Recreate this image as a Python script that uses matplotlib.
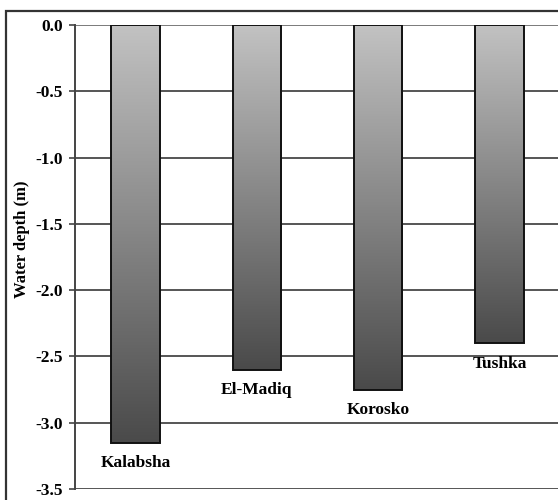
import matplotlib.pyplot as plt
import numpy as np
from matplotlib.patches import Rectangle
from matplotlib.colors import LinearSegmentedColormap

sites = ["Kalabsha", "El-Madiq", "Korosko", "Tushka"]
depths = [-3.15, -2.6, -2.75, -2.4]
yticks = [0.0, -0.5, -1.0, -1.5, -2.0, -2.5, -3.0, -3.5]

plt.rcParams['font.family'] = ['Liberation Serif', 'DejaVu Serif']
plt.rcParams['font.weight'] = 'bold'

W, H = 558, 500
fig = plt.figure(figsize=(W / 100, H / 100), dpi=100)

# outer chart frame (runs past the right and bottom edges)
fig.patches.append(Rectangle((6 / W, -0.1), 1.2, 1 - 11 / H + 0.1,
                             transform=fig.transFigure, fill=False,
                             edgecolor='#333333', linewidth=1.6))

x0, x1 = 75, 560
y0, y1 = 489, 25
ax = fig.add_axes([x0 / W, 1 - y0 / H, (x1 - x0) / W, (y0 - y1) / H])
ax.set_facecolor('none')

x = np.arange(len(sites))
ax.set_xlim(-0.5, len(sites) - 0.5)
ax.set_ylim(-3.5, 0.0)

for yv in yticks:
    ax.axhline(yv, color='#7a7a7a' if yv == 0 else '#555555', lw=1.4, zorder=0)

cmap = LinearSegmentedColormap.from_list('bar', ['#c2c2c2', '#4a4a4a'])
grad = np.linspace(0, 1, 256).reshape(-1, 1)
bars = ax.bar(x, depths, width=0.4, color='none', edgecolor='#111111',
              linewidth=1.4, zorder=3)
for b in bars:
    bx, bw = b.get_x(), b.get_width()
    top, bottom = 0.0, b.get_height()
    im = ax.imshow(grad, cmap=cmap, aspect='auto',
                   extent=[bx, bx + bw, bottom, top], origin='upper', zorder=2)
    im.set_clip_path(b)

for xi, d, name in zip(x, depths, sites):
    ax.annotate(name, (xi, d), xytext=(0, -9), textcoords='offset points',
                ha='center', va='top', fontsize=12.5, fontweight='bold')

ax.set_yticks(yticks)
ax.set_yticklabels([f"{v:.1f}" for v in yticks], fontsize=12.5, fontweight='bold')
ax.tick_params(axis='y', length=4, width=1.2, color='#444444', pad=5)
ax.set_xticks([])
for s in ['top', 'right', 'bottom']:
    ax.spines[s].set_visible(False)
ax.spines['left'].set_color('#444444')
ax.spines['left'].set_linewidth(1.4)
ax.spines['left'].set_zorder(4)

fig.text(22 / W, 1 - 239 / H, "Water depth (m)", rotation=90, ha='center',
         va='center', fontsize=12, fontweight='bold')

fig.savefig('out.png', dpi=100)
